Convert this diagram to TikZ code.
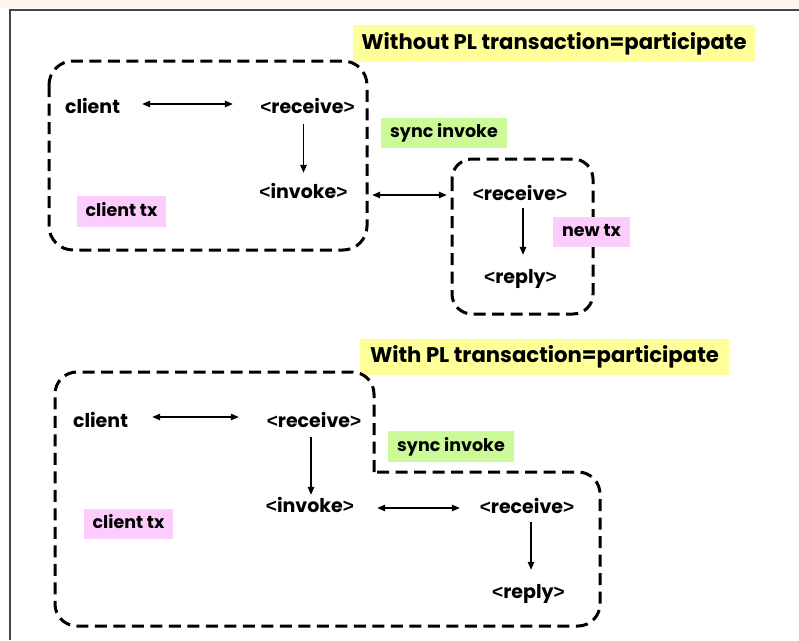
\documentclass[tikz,border=0pt]{standalone}
\usepackage{fontspec}
\setmainfont{Poppins}
\newfontfamily\bracketfont{Liberation Sans}
\usetikzlibrary{arrows.meta}
\definecolor{noteyellow}{RGB}{255,255,153}
\definecolor{notegreen}{RGB}{204,250,153}
\definecolor{notepink}{RGB}{252,204,252}
\definecolor{pagetop}{RGB}{253,245,238}
\definecolor{framegray}{RGB}{70,70,70}
% activity names written between angle brackets
\newcommand{\act}[1]{{\bracketfont<}#1{\bracketfont>}}
\begin{document}
\begin{tikzpicture}[x=1pt,y=-1pt,
  txt/.style={inner sep=0pt, text height=14pt, text depth=4pt, anchor=base,
    font=\fontsize{19}{19}\selectfont\bfseries},
  tag/.style={inner sep=0pt, text height=12pt, text depth=3pt,
    font=\fontsize{17.5}{17.5}\selectfont\bfseries},
  headline/.style={inner sep=0pt, text height=16pt, text depth=5pt, fill=noteyellow,
    font=\fontsize{21.2}{21.2}\selectfont\bfseries},
  region/.style={line width=3pt, dash pattern=on 12pt off 6.5pt},
  link/.style={line width=1.3pt, -{Triangle[length=8pt,width=6.5pt]}},
  twoway/.style={line width=1.3pt, {Triangle[length=8pt,width=6.5pt]}-{Triangle[length=8pt,width=6.5pt]}}]
\useasboundingbox (0,0) rectangle (799,640);
% page edge
\fill[pagetop] (0,0) rectangle (799,8);
\draw[framegray, line width=2pt] (799,10) -- (10,10) -- (10,640);

% ---- upper scenario: separate transactions ----
\node[headline, minimum width=402pt, minimum height=37pt] (head1) at (554,43.5) {Without PL transaction=participate};
\draw[region, rounded corners=24pt] (49,61) rectangle (367,250);
\draw[region, rounded corners=20pt] (452,159) rectangle (593,314);

\node[txt, minimum width=55pt]  (cl1) at (92.5,113) {client};
\node[txt, minimum width=101pt] (rc1) at (307.5,113) {\act{receive}};
\node[txt, minimum width=93pt]  (iv1) at (303.5,198) {\act{invoke}};
\node[txt, minimum width=104pt] (rc2) at (520,200) {\act{receive}};
\node[txt, minimum width=77pt]  (rp1) at (520.5,283) {\act{reply}};

\node[tag, fill=notegreen, minimum width=126pt, minimum height=30pt] (sync1) at (444,133) {sync invoke};
\node[tag, fill=notepink, minimum width=89pt, minimum height=31pt] (ctx1) at (121.5,211.5) {client tx};
\node[tag, fill=notepink, minimum width=77pt, minimum height=30pt] (ntx) at (591.5,232) {new tx};

\draw[twoway, shorten <=22pt, shorten >=24pt] ([yshift=4pt]cl1.east) -- ([yshift=4pt]rc1.west);
\draw[link, shorten <=7pt, shorten >=11pt] (rc1.south -| iv1.north) -- (iv1.north);
\draw[twoway, shorten <=22pt, shorten >=21pt] (iv1.east |- rc2.west) -- (rc2.west);
\draw[link, shorten <=4pt, shorten >=14pt] ([xshift=3pt]rc2.south) -- ([xshift=2.5pt]rp1.north);

% ---- lower scenario: shared transaction ----
\node[headline, minimum width=369pt, minimum height=36pt] (head2) at (544.5,356.5) {With PL transaction=participate};
\draw[region, rounded corners=22pt] (374,472) -- (374,372) -- (55,372) -- (55,626)
  -- (600,626) -- (600,472) -- (374,472);

\node[txt, minimum width=55pt]  (cl2) at (100.5,427) {client};
\node[txt, minimum width=102pt] (rc3) at (314,427) {\act{receive}};
\node[txt, minimum width=94pt]  (iv2) at (310,512) {\act{invoke}};
\node[txt, minimum width=102pt] (rc4) at (527,513) {\act{receive}};
\node[txt, minimum width=77pt]  (rp2) at (528.5,598) {\act{reply}};

\node[tag, fill=notegreen, minimum width=126pt, minimum height=31pt] (sync2) at (451,446.5) {sync invoke};
\node[tag, fill=notepink, minimum width=89pt, minimum height=30pt] (ctx2) at (128.5,524) {client tx};

\draw[twoway, shorten <=24pt, shorten >=24pt] ([yshift=5pt]cl2.east) -- ([yshift=5pt]rc3.west);
\draw[link, shorten <=6pt, shorten >=3pt] ([xshift=-3pt]rc3.south) -- ([xshift=1pt]iv2.north);
\draw[twoway, shorten <=20pt, shorten >=16pt] (iv2.east |- rc4.west) -- (rc4.west);
\draw[link, shorten <=5pt, shorten >=14pt] ([xshift=4pt]rc4.south) -- ([xshift=2.5pt]rp2.north);
\end{tikzpicture}
\end{document}
